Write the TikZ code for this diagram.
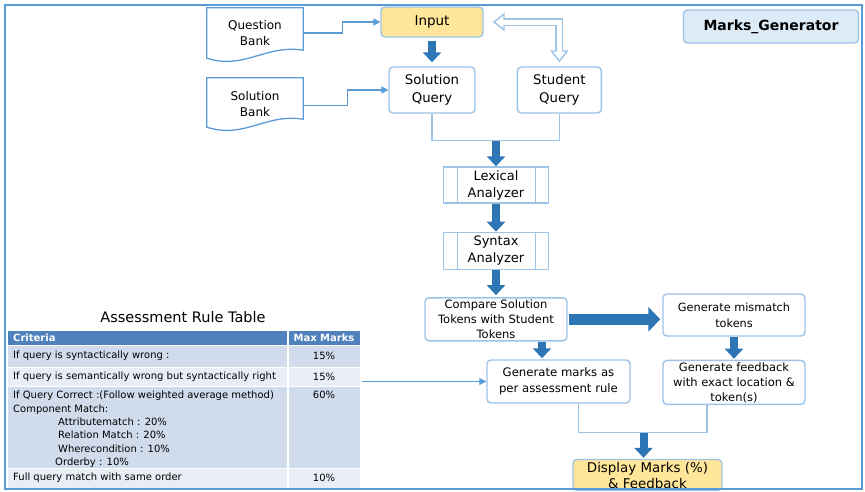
\documentclass[tikz,border=0pt]{standalone}
\usepackage{fontspec}
\setmainfont{DejaVu Sans}
\usetikzlibrary{arrows.meta, %
                positioning}

\definecolor{lineblue}{HTML}{9DC3E6}
\definecolor{arrowblue}{HTML}{2E75B6}
\definecolor{frameblue}{HTML}{5B9BD5}
\definecolor{boxyellow}{HTML}{FFE699}
\definecolor{titlefill}{HTML}{DDEBF7}
\definecolor{headblue}{HTML}{4F81BD}
\definecolor{rowdark}{HTML}{D0DCEC}
\definecolor{rowlight}{HTML}{E9EEF6}

\begin{document}
\begin{tikzpicture}[x=1pt, y=-1pt]
    \tikzset{BoxStyle/.style = {rectangle, rounded corners=4pt, draw=lineblue, line width=1.4pt, fill=white, align=center, inner sep=1pt}}
    \tikzset{YellowStyle/.style = {BoxStyle, fill=boxyellow}}
    \tikzset{ProcStyle/.style = {rectangle, draw=lineblue, line width=1.4pt, minimum width=105pt, minimum height=36pt, align=center, inner sep=1pt,
        font=\fontsize{13}{17}\selectfont,
        path picture={\draw[lineblue, line width=1.4pt]
            ([xshift=14pt]path picture bounding box.north west) -- ([xshift=14pt]path picture bounding box.south west)
            ([xshift=-13pt]path picture bounding box.north east) -- ([xshift=-13pt]path picture bounding box.south east);}}}
    \tikzset{DocStyle/.style = {rectangle, minimum width=96pt, align=center, inner sep=1pt, font=\fontsize{12}{16}\selectfont}}
    \tikzset{DocLine/.style = {draw=frameblue, line width=1.3pt, fill=white}}
    \tikzset{ThinArrow/.style = {draw=frameblue, line width=1.2pt, -{Triangle[length=7pt,width=7pt]}}}
    \tikzset{JoinLine/.style = {draw=lineblue, line width=1.3pt}}
    \tikzset{BigArrow/.style = {draw=arrowblue, line width=8pt, -{Triangle[length=10pt,width=18pt]}}}
    \tikzset{HugeArrow/.style = {draw=arrowblue, line width=11pt, -{Triangle[length=12pt,width=24pt]}}}
    \tikzset{HollowOut/.style = {draw=lineblue, line width=8pt, line join=miter,
        {Triangle[length=12pt,width=18pt]}-{Triangle[length=12pt,width=18pt]}}}
    \tikzset{HollowIn/.style = {draw=white, line width=5pt, line join=miter, shorten <=2.6pt, shorten >=2.6pt,
        {Triangle[length=8pt,width=12pt]}-{Triangle[length=8pt,width=12pt]}}}
    \tikzset{RowStyle/.style = {rectangle, draw=white, line width=1pt, minimum width=353pt, inner sep=0pt, outer sep=0pt}}
    \tikzset{CellText/.style = {font=\fontsize{10}{13.3}\selectfont, inner sep=0pt, anchor=west}}

    \useasboundingbox (0,0) rectangle (865,491);

    % documents on the left
    \node[DocStyle, minimum height=50pt](QBank) at (255,33) {};
    \node[DocStyle, minimum height=49pt](SBank) at (255,102.5) {};
    \foreach \d in {QBank,SBank}
        \draw[DocLine] (\d.north west) -- (\d.north east) -- ([yshift=8pt]\d.south east)
            .. controls +(-38,-6) and +(38,12) .. (\d.south west) -- cycle;
    \node[DocStyle] at (QBank) {Question\\Bank};
    \node[DocStyle] at ([yshift=-2pt]SBank) {Solution\\Bank};

    % queries
    \node[YellowStyle, minimum width=102pt, minimum height=30pt, font=\fontsize{13.5}{16}\selectfont](In) at (432,22) {Input};
    \node[BoxStyle, minimum width=86pt, minimum height=46pt, font=\fontsize{13.3}{18}\selectfont](SolQ) at (432,90) {Solution\\Query};
    \node[BoxStyle, minimum width=84pt, minimum height=46pt, font=\fontsize{13.3}{18}\selectfont, right=41pt of SolQ](StuQ) {Student\\Query};
    \node[BoxStyle, fill=titlefill, minimum width=175pt, minimum height=33pt, font=\fontsize{14}{17}\selectfont\bfseries](Gen) at (771,26.5) {Marks\_Generator};

    % analysers
    \node[ProcStyle](Lex) at (496,185) {Lexical\\Analyzer};
    \node[ProcStyle, minimum height=37pt, below=28pt of Lex](Syn) {Syntax\\Analyzer};
    \node[BoxStyle, minimum width=142pt, minimum height=43pt, font=\fontsize{11.5}{15}\selectfont, below=27pt of Syn](Cmp) {Compare Solution\\Tokens with Student\\Tokens};
    \node[BoxStyle, minimum width=142pt, minimum height=42pt, font=\fontsize{11.3}{16}\selectfont](Mis) at (734,315) {Generate mismatch\\tokens};
    \node[BoxStyle, minimum width=142pt, minimum height=44pt, font=\fontsize{11.5}{15}\selectfont, below=23pt of Mis](Fbk) {Generate feedback\\with exact location \&\\token(s)};
    \node[BoxStyle, minimum width=143pt, minimum height=43pt, font=\fontsize{11.7}{16}\selectfont](Mrk) at (558.5,381.5) {Generate marks as\\per assessment rule};
    \node[YellowStyle, minimum width=149pt, minimum height=31pt, font=\fontsize{13.4}{16}\selectfont](Dsp) at (647.5,475) {Display Marks (\%)\\\& Feedback};

    % connectors
    \draw[ThinArrow] (QBank.east) -- ++(39,0) |- (In.west);
    \draw[ThinArrow] ([yshift=-3pt]SBank.east) -- ++(44,0) |- (SolQ.west);
    \draw[BigArrow, shorten <=3pt, shorten >=4pt] (In) -- (SolQ);

    \coordinate (hL) at ([xshift=9pt]In.east);
    \coordinate (hD) at ([yshift=4pt]StuQ.north);
    \draw[HollowOut] (hL) -- (hL -| hD) -- (hD);
    \draw[HollowIn] (hL) -- (hL -| hD) -- (hD);

    \path (SolQ.south) ++(0,27) coordinate (QLow);
    \coordinate (QJoin) at (QLow -| Lex.north);
    \draw[JoinLine] (SolQ.south) |- (QJoin) -| (StuQ.south);
    \draw[BigArrow] (QJoin) -- (Lex);
    \draw[BigArrow] (Lex) -- (Syn);
    \draw[BigArrow, shorten >=2pt] (Syn) -- (Cmp);
    \draw[HugeArrow, shorten <=1pt, shorten >=2pt] (Cmp.east) -- (Cmp.east -| Mis.west);
    \coordinate (CmpOut) at ([xshift=46pt]Cmp.south);
    \draw[BigArrow, shorten >=1pt] (CmpOut) -- (CmpOut |- Mrk.north);
    \draw[BigArrow, shorten >=1pt] (Mis) -- (Fbk);

    \coordinate (MrkOut) at ([xshift=20pt]Mrk.south);
    \coordinate (FbkOut) at ([xshift=-27pt]Fbk.south);
    \coordinate (DspIn) at ([xshift=-4pt]Dsp.north);
    \path (MrkOut) ++(0,29) coordinate (MLow);
    \coordinate (FJoin) at (MLow -| DspIn);
    \draw[JoinLine] (MrkOut) |- (FJoin) -| (FbkOut);
    \draw[BigArrow, shorten >=1pt] (FJoin) -- (DspIn);

    % assessment rule table
    \node[font=\fontsize{14.5}{17}\selectfont](Tbl) at (183,317) {Assessment Rule Table};
    \node[RowStyle, fill=headblue, minimum height=15pt, anchor=north](Hd) at (183.5,330) {};
    \node[RowStyle, fill=rowdark, minimum height=22pt, below=0pt of Hd](R1) {};
    \node[RowStyle, fill=rowlight, minimum height=19pt, below=0pt of R1](R2) {};
    \node[RowStyle, fill=rowdark, minimum height=82pt, below=0pt of R2](R3) {};
    \node[RowStyle, fill=rowlight, minimum height=20pt, below=0pt of R3](R4) {};
    \coordinate (ColX) at (288,0);
    \coordinate (MCol) at (324,0);
    \draw[white, line width=1.5pt] (Hd.north -| ColX) -- (R4.south -| ColX);

    \node[CellText, text=white, font=\fontsize{10}{13.3}\selectfont\bfseries](C0) at ([xshift=6pt]Hd.west) {Criteria};
    \node[CellText, text=white, font=\fontsize{10}{13.3}\selectfont\bfseries, anchor=center](M0) at (Hd -| MCol) {Max Marks};
    \node[CellText](C1) at ([xshift=6pt]R1.west) {If query is syntactically wrong :};
    \node[CellText, anchor=center](M1) at (R1 -| MCol) {15\%};
    \node[CellText](C2) at ([xshift=6pt]R2.west) {If query is semantically wrong but syntactically right};
    \node[CellText, anchor=center](M2) at (R2 -| MCol) {15\%};
    \node[CellText, anchor=north west, align=left](C3) at ([xshift=6pt,yshift=-5pt]R3.north west)
        {If Query Correct :(Follow weighted average method)\\
         Component Match:\\
         \hspace*{45pt}Attributematch : 20\%\\
         \hspace*{45pt}Relation Match : 20\%\\
         \hspace*{45pt}Wherecondition : 10\%\\
         \hspace*{42pt}Orderby : 10\%};
    \node[CellText, anchor=north](M3) at (MCol |- C3.north) {60\%};
    \node[CellText](C4) at ([xshift=6pt]R4.west) {Full query match with same order};
    \node[CellText, anchor=center](M4) at (R4 -| MCol) {10\%};

    \draw[ThinArrow, shorten <=2pt] (R2.east |- Mrk.west) -- (Mrk.west);

    % outer frame
    \draw[draw=frameblue, line width=2pt] (5,5) rectangle (862,488.5);
\end{tikzpicture}
\end{document}
